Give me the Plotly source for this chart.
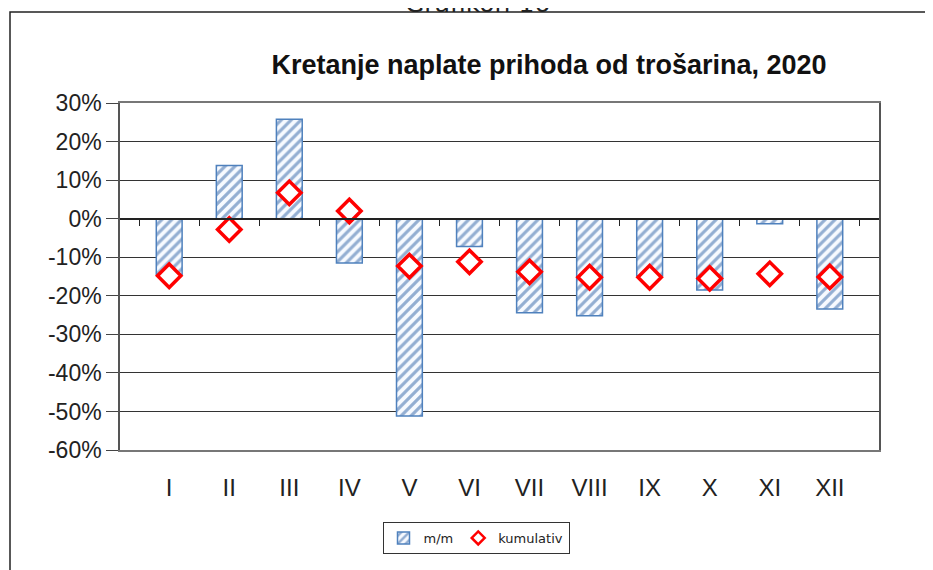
import plotly.graph_objects as go

months = ["I", "II", "III", "IV", "V", "VI", "VII", "VIII", "IX", "X", "XI", "XII"]
mm = [-14.5, 13.8, 25.8, -11.5, -51.2, -7.2, -24.4, -25.2, -14.8, -18.5, -1.3, -23.4]
kumulativ = [-14.8, -2.8, 6.7, 2.0, -12.3, -11.2, -13.8, -15.2, -15.2, -15.5, -14.3, -15.1]
y_ticks = [30, 20, 10, 0, -10, -20, -30, -40, -50, -60]

# page body has an 8px margin, so the figure starts at (8, 8) on screen
W, H = 925, 562
L, R, T, B = 112, 54, 95, 120
pw, ph = W - L - R, H - T - B

fig = go.Figure()

fig.add_trace(go.Bar(
    name="m/m", x=months, y=mm, width=0.43,
    marker=dict(color="white", line=dict(color="#4f81bd", width=1.5),
                pattern=dict(shape="/", fgcolor="#2f62a5", bgcolor="#f7faff", size=7, solidity=0.45)),
))
fig.add_trace(go.Scatter(
    name="kumulativ", x=months, y=kumulativ, mode="markers", showlegend=False,
    marker=dict(symbol="diamond", size=18, color="white", line=dict(color="#ff0000", width=3.5)),
))
# legend entry with a smaller symbol
fig.add_trace(go.Scatter(
    name="kumulativ", x=[None], y=[None], mode="markers",
    marker=dict(symbol="diamond", size=10, color="white", line=dict(color="#ff0000", width=2.5)),
))

# axis with tick marks along the zero line
fig.add_trace(go.Scatter(x=months, y=[None] * 12, xaxis="x2", showlegend=False, hoverinfo="skip"))

fig.update_layout(
    width=W, height=H,
    margin=dict(l=L, r=R, t=T, b=B),
    paper_bgcolor="white", plot_bgcolor="white",
    font=dict(family="Liberation Sans, Arial, sans-serif", color="#222"),
    title=dict(text="<b>Kretanje naplate prihoda od trošarina, 2020</b>",
               x=541 / W, xanchor="center", y=1 - 57 / H, yanchor="middle",
               font=dict(family="Liberation Sans, Arial, sans-serif", size=27, color="#111")),
    xaxis=dict(showline=True, linecolor="#777", linewidth=1.5, mirror=True,
               ticks="", tickfont=dict(size=24), showgrid=False, ticklabelstandoff=15),
    xaxis2=dict(overlaying="x", anchor="free", position=60 / 90, matches="x",
                showline=True, linecolor="#222", linewidth=1.5, ticks="outside", ticklen=7,
                tickcolor="#222", tickson="boundaries", showticklabels=False, showgrid=False),
    yaxis=dict(range=[-60, 30], tickvals=y_ticks, ticktext=[f"{v}%" for v in y_ticks],
               tickfont=dict(size=23), showgrid=True, gridcolor="#333", gridwidth=1.2,
               showline=True, linecolor="#555", linewidth=1.5, ticks="outside", ticklen=12,
               tickcolor="#444", mirror=True, zeroline=False),
    showlegend=True,
    legend=dict(orientation="h", x=(476 - 8 - L) / pw, xanchor="center",
                y=(T + ph - (522 - 8)) / ph, yanchor="top",
                bordercolor="#333", borderwidth=1, font=dict(size=13, family="DejaVu Sans"),
                itemwidth=30, traceorder="normal"),
)

# outer frame of the chart (cropped at right and bottom)
fig.add_shape(type="rect", xref="paper", yref="paper",
              x0=(2 - L) / pw, x1=(W + 10 - L) / pw,
              y0=(T + ph - (H + 20)) / ph, y1=(T + ph - 4) / ph,
              line=dict(color="#222", width=1.5), fillcolor="rgba(0,0,0,0)", layer="below")

fig.add_annotation(text="Grafikon 16", xref="paper", yref="paper",
                   x=(477 - 8 - L) / pw, y=(T + ph - 12) / ph, xanchor="center", yanchor="bottom",
                   showarrow=False, font=dict(family="DejaVu Sans", size=25, color="#222"))

fig.write_html("out.html")
